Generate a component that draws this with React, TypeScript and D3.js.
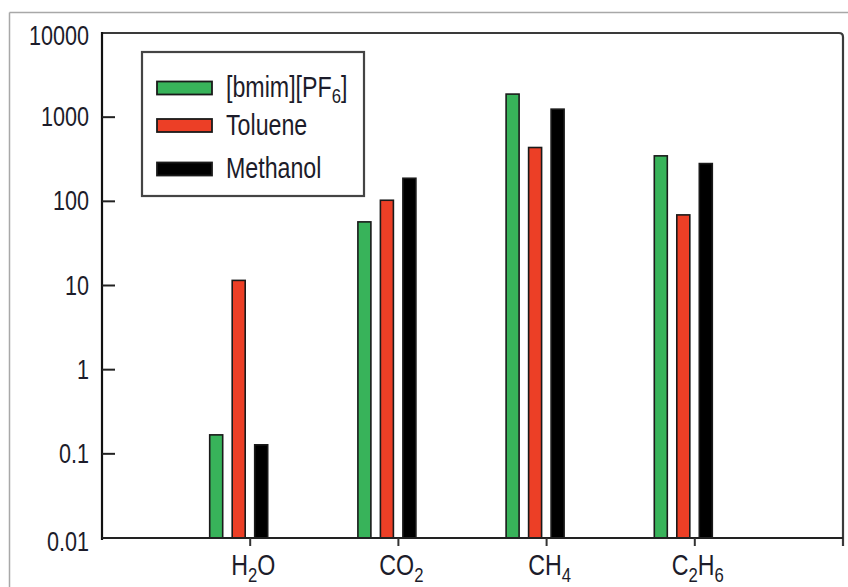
import React from "react";
import * as d3 from "d3";

const categories = ["H2O", "CO2", "CH4", "C2H6"];
const seriesNames = ["[bmim][PF6]", "Toluene", "Methanol"];
const bmimValues = [0.168, 57, 1880, 347];
const tolueneValues = [11.5, 103, 436, 69];
const methanolValues = [0.128, 188, 1245, 281];
const yTickValues = [0.01, 0.1, 1, 10, 100, 1000, 10000];
const yTickLabels = ["0.01", "0.1", "1", "10", "100", "1000", "10000"];
const seriesColors = ["#38b35a", "#ec3f26", "#000000"];

const W = 848;
const H = 587;
const FONT = "'Liberation Sans', Arial, sans-serif";
const TEXT = "#1c1c2a";
const SQ = 0.8;

function Chem({ label, x, y, size, anchor, sub }: { label: string; x: number; y: number; size: number; anchor: string; sub: number }) {
  const parts = label.match(/(\d+|[^\d]+)/g) || [];
  const out: React.ReactNode[] = [];
  let down = false;
  parts.forEach((p, i) => {
    const isNum = /^\d+$/.test(p);
    if (isNum) {
      out.push(
        <tspan key={i} dy={sub} fontSize={size * 0.72}>{p}</tspan>
      );
      down = true;
    } else {
      out.push(
        <tspan key={i} dy={down ? -sub : 0}>{p}</tspan>
      );
      down = false;
    }
  });
  return (
    <g transform={`translate(${x},${y}) scale(${SQ},1)`}>
      <text x={0} y={0} fontSize={size} textAnchor={anchor as any} fill={TEXT} fontFamily={FONT}>
        {out}
      </text>
    </g>
  );
}

export default function App() {
  const left = 102, right = 843, top = 33, bottom = 538;
  const x = d3.scaleLinear().domain([0, categories.length + 1]).range([left, right]);
  const y = d3.scaleLog().domain([0.01, 10000]).range([bottom, top]);
  const series = [bmimValues, tolueneValues, methanolValues];
  const offsets = [-34, -11.5, 11];
  const barW = 13;

  return (
    <svg width={W} height={H} style={{ position: "absolute", left: 0, top: 0, background: "#fff" }}>
      {/* outer frame */}
      <line x1={9.5} y1={12.5} x2={W} y2={12.5} stroke="#a8a8a8" strokeWidth={1.5} />
      <line x1={9.5} y1={12.5} x2={9.5} y2={H} stroke="#a8a8a8" strokeWidth={1.5} />

      {/* bars */}
      {series.map((vals, si) =>
        vals.map((v, ci) => {
          const cx = x(ci + 1) + offsets[si];
          const yt = y(v);
          return (
            <rect
              key={si + "-" + ci}
              x={cx - barW / 2}
              y={yt}
              width={barW}
              height={bottom - yt}
              fill={seriesColors[si]}
              stroke="#1a1a1a"
              strokeWidth={1.6}
            />
          );
        })
      )}

      {/* plot frame top and right */}
      <path d={`M${left},${top} H${right - 4} Q${right},${top} ${right},${top + 4} V${bottom + 8}`} fill="none" stroke="#3a3a3a" strokeWidth={2.2} />
      {/* axes */}
      <line x1={left} y1={top - 1} x2={left} y2={bottom + 2} stroke="#111" strokeWidth={2.2} />
      <line x1={left} y1={bottom} x2={right} y2={bottom} stroke="#222" strokeWidth={2} />

      {/* y ticks */}
      {yTickValues.map((t, i) => (
        <g key={"yt" + i}>
          {i > 0 && i < yTickValues.length - 1 && (
            <line x1={left} x2={left + 13} y1={y(t)} y2={y(t)} stroke="#222" strokeWidth={2} />
          )}
          <g transform={`translate(89,${y(t) + 9 + (i === yTickValues.length - 1 ? 3 : 0) + (i === 0 ? 4 : 0)}) scale(${SQ},1)`}>
            <text x={0} y={0} textAnchor="end" fontSize={27} fill={TEXT} fontFamily={FONT}>
              {yTickLabels[i]}
            </text>
          </g>
        </g>
      ))}

      {/* x ticks */}
      {categories.map((c, i) => (
        <g key={"xt" + i}>
          <line x1={x(i + 1)} x2={x(i + 1)} y1={bottom} y2={bottom + 8} stroke="#333" strokeWidth={2} />
          <Chem label={c} x={x(i + 1) + 3} y={575} size={29} anchor="middle" sub={7} />
        </g>
      ))}

      {/* legend */}
      <rect x={142} y={52} width={222} height={144} fill="#fff" stroke="#444" strokeWidth={2.2} />
      {seriesNames.map((n, i) => {
        const cy = [88, 125.5, 169][i];
        return (
          <g key={"lg" + i}>
            <rect x={157} y={cy - 6.5} width={55} height={13} fill={seriesColors[i]} stroke="#1a1a1a" strokeWidth={1.8} />
            <Chem label={n} x={226} y={cy + 9} size={29} anchor="start" sub={6} />
          </g>
        );
      })}
    </svg>
  );
}
